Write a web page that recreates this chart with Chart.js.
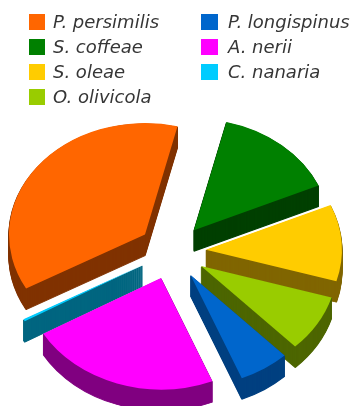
<!DOCTYPE html>
<html>
<head>
<meta charset="utf-8">
<title>Species shares</title>
<script src="https://cdn.jsdelivr.net/npm/chart.js@4/dist/chart.umd.min.js"></script>
<style>
  html, body { margin: 0; padding: 0; background: #fff; }
  #stage { position: relative; width: 357px; height: 406px; overflow: hidden; }
  canvas { position: absolute; left: 0; top: 0; }
  .key { position: absolute; display: flex; align-items: center; height: 25px;
         font: italic 18px "DejaVu Sans", sans-serif; color: #363636; white-space: nowrap; }
  .key i { display: block; width: 16px; height: 16px; margin-right: 8px; }
  .key.second i { width: 17px; margin-right: 10px; }
</style>
</head>
<body>
<div id="stage"><canvas id="pie" width="357" height="406"></canvas></div>
<script>
const species = ['P. persimilis', 'S. coffeae', 'S. oleae', 'O. olivicola', 'P. longispinus', 'A. nerii', 'C. nanaria'];
const shares = [36.9, 14.6, 11.1, 8.3, 6.0, 22.8, 0.3];
const topColors = ['#ff6600', '#008000', '#ffcc00', '#99cc00', '#0066cc', '#ff00ff', '#00ccff'];
const sideColors = ['#803300', '#004000', '#806600', '#4d6600', '#004080', '#800080', '#006680'];

const TILT = 0.82;    // vertical squash of the disc
const DEPTH = 21;     // wall height in pixels
const EXPLODE = 34;   // distance each wedge is pulled out from the hub
const keysPerColumn = 4;

// Paints the wedges back to front: a stack of darker copies for the wall, then the lit face.
const tiltedPie = {
  id: 'tiltedPie',
  beforeDatasetsDraw(chart) {
    const ctx = chart.ctx;
    const arcs = chart.getDatasetMeta(0).data;
    const { x, y } = arcs[0];
    const midAngle = (arc) => (arc.startAngle + arc.endAngle) / 2;
    const order = arcs.map((arc, i) => i).sort((a, b) =>
      Math.sin(midAngle(arcs[a])) - Math.sin(midAngle(arcs[b])));

    ctx.save();
    ctx.translate(x, y);
    ctx.scale(1, TILT);
    ctx.translate(-x, -y);
    for (const i of order) {
      const arc = arcs[i];
      const mid = midAngle(arc);
      const opts = arc.options;
      const face = opts.backgroundColor;
      ctx.save();
      ctx.translate(Math.cos(mid) * EXPLODE, Math.sin(mid) * EXPLODE);
      // A hairline stroke keeps the wall solid even for the thinnest wedge.
      opts.backgroundColor = sideColors[i];
      opts.borderColor = sideColors[i];
      opts.borderWidth = 1.2;
      for (let d = DEPTH; d > 0; d--) {
        ctx.save();
        ctx.translate(0, d / TILT);
        arc.draw(ctx);
        ctx.restore();
      }
      opts.backgroundColor = face;
      opts.borderWidth = 0;
      arc.draw(ctx);
      ctx.restore();
    }
    ctx.restore();
    return false;
  }
};

const chart = new Chart(document.getElementById('pie'), {
  type: 'pie',
  data: {
    labels: species,
    datasets: [{ data: shares, backgroundColor: topColors, borderWidth: 0 }]
  },
  options: {
    responsive: false,
    animation: false,
    rotation: -119,
    radius: 136,
    layout: { padding: { top: 97, right: 13, bottom: 0, left: 0 } },
    plugins: { legend: { display: false }, tooltip: { enabled: false } }
  },
  plugins: [tiltedPie]
});

// Two-column key built from the chart's own labels and colours.
const stage = document.getElementById('stage');
chart.data.labels.forEach((name, i) => {
  const row = i % keysPerColumn;
  const col = Math.floor(i / keysPerColumn);
  const key = document.createElement('div');
  key.className = col ? 'key second' : 'key';
  key.style.left = (col ? 201 : 29) + 'px';
  key.style.top = (9 + row * 25) + 'px';
  const swatch = document.createElement('i');
  swatch.style.background = chart.data.datasets[0].backgroundColor[i];
  key.appendChild(swatch);
  key.appendChild(document.createTextNode(name));
  stage.appendChild(key);
});
</script>
</body>
</html>
